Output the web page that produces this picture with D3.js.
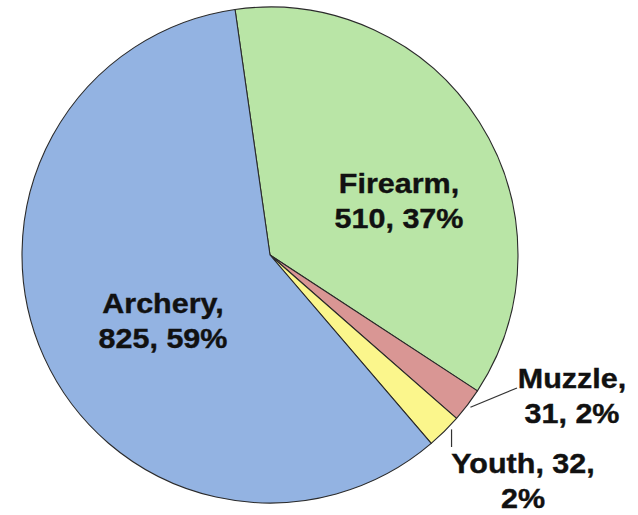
<!DOCTYPE html>
<html><head><meta charset="utf-8">
<script src="https://cdn.jsdelivr.net/npm/d3@7"></script>
<style>body{margin:0;background:#fff}svg{display:block}</style>
</head><body>
<script>
const categories = ["Firearm", "Muzzle", "Youth", "Archery"];
const values = [510, 31, 32, 825];
const percents = ["37%", "2%", "2%", "59%"];
const colors = ["#b9e5a6", "#d99694", "#fbf68c", "#93b3e2"];

const W = 638, H = 515;
const cx = 270, cy = 255, R = 248;
const svg = d3.select("body").append("svg").attr("width", W).attr("height", H);
const g = svg.append("g").attr("transform", `translate(${cx},${cy})`);

const startA = -8.1 * Math.PI / 180;
const pie = d3.pie().sort(null).startAngle(startA).endAngle(startA + 2 * Math.PI);
const arcs = pie(values);
const arc = d3.arc().innerRadius(0).outerRadius(R);

g.selectAll("path.slice").data(arcs).join("path")
  .attr("class", "slice")
  .attr("d", arc)
  .attr("fill", (d, i) => colors[i])
  .attr("stroke", "#2a2a2a")
  .attr("stroke-width", 1.1)
  .attr("stroke-linejoin", "round");

const labelLines = [
  [`${categories[0]},`, `${values[0]}, ${percents[0]}`],
  [`${categories[1]},`, `${values[1]}, ${percents[1]}`],
  [`${categories[2]}, ${values[2]},`, `${percents[2]}`],
  [`${categories[3]},`, `${values[3]}, ${percents[3]}`]
];
const labelPos = [[129, -62], [302, 133], [253, 218], [-107, 58]];
const lineGap = 35;

labelLines.forEach((lines, i) => {
  const lg = g.append("g")
    .attr("transform", `translate(${labelPos[i][0]},${labelPos[i][1]}) scale(1.07,1)`);
  const t = lg.append("text")
    .attr("text-anchor", "middle")
    .attr("font-family", "Liberation Sans, Arial, sans-serif")
    .attr("font-weight", "bold")
    .attr("font-size", 28.5)
    .attr("fill", "#111")
    .attr("stroke", "#111").attr("stroke-width", 0.4);
  lines.forEach((s, j) => {
    t.append("tspan").attr("x", 0).attr("y", j * lineGap).text(s);
  });
});

const pt = (a, r) => [r * Math.sin(a), -r * Math.cos(a)];
const mid = d => (d.startAngle + d.endAngle) / 2;
{
  const d = arcs[1];
  const p0 = pt(mid(d), R * 1.015);
  g.append("polyline")
    .attr("points", [p0, [247, 133]].map(p => p.join(",")).join(" "))
    .attr("fill", "none").attr("stroke", "#333").attr("stroke-width", 1.2);
}
{
  const d = arcs[2];
  const p0 = pt(mid(d) - 0.026, R * 1.015);
  g.append("polyline")
    .attr("points", [p0, [p0[0], 192]].map(p => p.join(",")).join(" "))
    .attr("fill", "none").attr("stroke", "#333").attr("stroke-width", 1.2);
}
</script>
</body></html>
